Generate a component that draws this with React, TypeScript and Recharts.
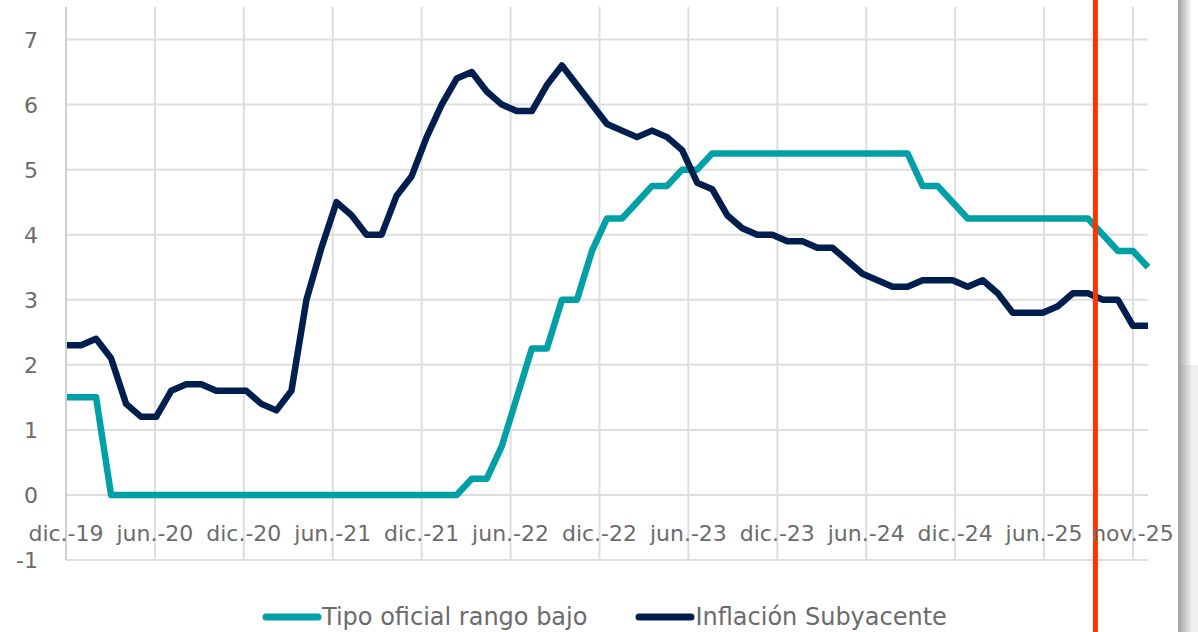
import React from "react";
import {
  LineChart,
  Line,
  XAxis,
  YAxis,
  CartesianGrid,
  Legend,
  ReferenceLine,
} from "recharts";

const months = [
  "dic.-19",
  "ene.-20", "feb.-20", "mar.-20", "abr.-20", "may.-20", "jun.-20", "jul.-20", "ago.-20", "sept.-20", "oct.-20", "nov.-20", "dic.-20",
  "ene.-21", "feb.-21", "mar.-21", "abr.-21", "may.-21", "jun.-21", "jul.-21", "ago.-21", "sept.-21", "oct.-21", "nov.-21", "dic.-21",
  "ene.-22", "feb.-22", "mar.-22", "abr.-22", "may.-22", "jun.-22", "jul.-22", "ago.-22", "sept.-22", "oct.-22", "nov.-22", "dic.-22",
  "ene.-23", "feb.-23", "mar.-23", "abr.-23", "may.-23", "jun.-23", "jul.-23", "ago.-23", "sept.-23", "oct.-23", "nov.-23", "dic.-23",
  "ene.-24", "feb.-24", "mar.-24", "abr.-24", "may.-24", "jun.-24", "jul.-24", "ago.-24", "sept.-24", "oct.-24", "nov.-24", "dic.-24",
  "ene.-25", "feb.-25", "mar.-25", "abr.-25", "may.-25", "jun.-25", "jul.-25", "ago.-25", "sept.-25", "oct.-25", "nov.-25", "dic.-25",
];

const tipoOficial = [
  1.5, 1.5, 1.5,
  0, 0, 0, 0, 0, 0, 0, 0, 0, 0, 0, 0, 0, 0, 0, 0, 0, 0, 0, 0, 0, 0, 0, 0,
  0.25, 0.25, 0.75, 1.5, 2.25, 2.25, 3.0, 3.0, 3.75, 4.25, 4.25, 4.5, 4.75, 4.75, 5.0, 5.0,
  5.25, 5.25, 5.25, 5.25, 5.25, 5.25, 5.25, 5.25, 5.25, 5.25, 5.25, 5.25, 5.25, 5.25,
  4.75, 4.75, 4.5,
  4.25, 4.25, 4.25, 4.25, 4.25, 4.25, 4.25, 4.25, 4.25,
  4.0, 3.75, 3.75, 3.5,
];

const inflacionSubyacente = [
  2.3, 2.3, 2.4, 2.1, 1.4, 1.2, 1.2, 1.6, 1.7, 1.7,
  1.6, 1.6, 1.6, 1.4, 1.3, 1.6, 3.0, 3.8, 4.5, 4.3,
  4.0, 4.0, 4.6, 4.9, 5.5, 6.0, 6.4, 6.5, 6.2, 6.0,
  5.9, 5.9, 6.3, 6.6, 6.3, 6.0, 5.7, 5.6, 5.5, 5.6,
  5.5, 5.3, 4.8, 4.7, 4.3, 4.1, 4.0, 4.0, 3.9, 3.9,
  3.8, 3.8, 3.6, 3.4, 3.3, 3.2, 3.2, 3.3, 3.3, 3.3,
  3.2, 3.3, 3.1, 2.8, 2.8, 2.8, 2.9, 3.1, 3.1, 3.0,
  3.0, 2.6, 2.6,
];

const xTickLabels = [
  "dic.-19", "jun.-20", "dic.-20", "jun.-21", "dic.-21", "jun.-22", "dic.-22",
  "jun.-23", "dic.-23", "jun.-24", "dic.-24", "jun.-25", "nov.-25",
];

const yTicks = [-1, 0, 1, 2, 3, 4, 5, 6, 7];

const seriesNames = ["Tipo oficial rango bajo", "Inflación Subyacente"];
const corteIndex = 68.5;

const TEAL = "#00A0A6";
const NAVY = "#001F4F";
const RED = "#FF3300";
const TEXT = "#6b6b6b";
const FONT = "'DejaVu Sans', sans-serif";

const data = months.map((m, i) => ({
  idx: i,
  mes: m,
  tipo: tipoOficial[i],
  infl: inflacionSubyacente[i],
}));

const lastTickIdx = months.indexOf(xTickLabels[xTickLabels.length - 1]);
const xTicks = xTickLabels.map((_, k) => (lastTickIdx * k) / (xTickLabels.length - 1));

const XTick = (props: any) => {
  const { x, y, index } = props;
  return (
    <text
      x={x}
      y={y - 19}
      textAnchor="middle"
      fill={TEXT}
      fontSize={22}
      fontFamily={FONT}
    >
      {xTickLabels[index]}
    </text>
  );
};

const YTick = (props: any) => {
  const { x, y, payload } = props;
  return (
    <text
      x={x}
      y={y}
      dy={8}
      textAnchor="end"
      fill={TEXT}
      fontSize={22}
      fontFamily={FONT}
    >
      {payload.value}
    </text>
  );
};

const LegendContent = () => {
  const items = [
    { name: seriesNames[0], color: TEAL },
    { name: seriesNames[1], color: NAVY },
  ];
  return (
    <div
      style={{
        display: "flex",
        alignItems: "center",
        paddingLeft: 262,
        height: 42,
        paddingTop: 12,
        boxSizing: "border-box",
        fontFamily: FONT,
        fontSize: 24,
        color: TEXT,
        whiteSpace: "nowrap",
      }}
    >
      {items.map((it, k) => (
        <div
          key={it.name}
          style={{ display: "flex", alignItems: "center", marginRight: k === 0 ? 48 : 0 }}
        >
          <svg width={60} height={10} style={{ display: "block" }}>
            <line
              x1={4}
              y1={5}
              x2={56}
              y2={5}
              stroke={it.color}
              strokeWidth={7}
              strokeLinecap="round"
            />
          </svg>
          <span>{it.name}</span>
        </div>
      ))}
    </div>
  );
};

const RedLine = (props: any) => {
  const { x1, x2 } = props;
  return <line x1={x1} x2={x2} y1={0} y2={632} stroke={RED} strokeWidth={5} />;
};

export default function App() {
  return (
    <div
      style={{
        position: "absolute",
        left: 0,
        top: 0,
        width: 1198,
        height: 632,
        background: "#ffffff",
        overflow: "hidden",
      }}
    >
      <LineChart
        width={1198}
        height={632}
        data={data}
        margin={{ top: 7, right: 50, bottom: 0, left: 0 }}
      >
        <CartesianGrid
          stroke="#dedede"
          strokeWidth={2}
          horizontalValues={yTicks}
          verticalValues={xTicks}
        />
        <XAxis
          type="number"
          dataKey="idx"
          domain={[0, months.length - 1]}
          ticks={xTicks}
          interval={0}
          axisLine={false}
          tickLine={false}
          tickSize={0}
          tickMargin={0}
          height={30}
          tick={<XTick />}
        />
        <YAxis
          domain={[-1, 7.5]}
          ticks={yTicks}
          interval={0}
          width={66}
          axisLine={{ stroke: "#cfcfcf", strokeWidth: 2 }}
          tickLine={false}
          tickSize={0}
          tickMargin={28}
          tick={<YTick />}
        />
        <Line
          type="linear"
          dataKey="tipo"
          name={seriesNames[0]}
          stroke={TEAL}
          strokeWidth={6.5}
          strokeLinejoin="round"
          dot={false}
          activeDot={false}
          isAnimationActive={false}
        />
        <Line
          type="linear"
          dataKey="infl"
          name={seriesNames[1]}
          stroke={NAVY}
          strokeWidth={6.5}
          strokeLinejoin="round"
          dot={false}
          activeDot={false}
          isAnimationActive={false}
        />
        <ReferenceLine x={corteIndex} stroke={RED} strokeWidth={5} shape={<RedLine />} ifOverflow="visible" />
        <Legend
          verticalAlign="bottom"
          height={42}
          wrapperStyle={{ left: 0, bottom: 0, width: 1198, height: 42 }}
          content={<LegendContent />}
        />
      </LineChart>
      <div
        style={{
          position: "absolute",
          left: 1178,
          top: 365,
          width: 20,
          height: 267,
          background: "#efefef",
        }}
      />
      <div
        style={{
          position: "absolute",
          left: 1178,
          top: 0,
          width: 14,
          height: 632,
          background: "linear-gradient(to right, #a0a0a0, rgba(240,240,240,0))",
        }}
      />
    </div>
  );
}
